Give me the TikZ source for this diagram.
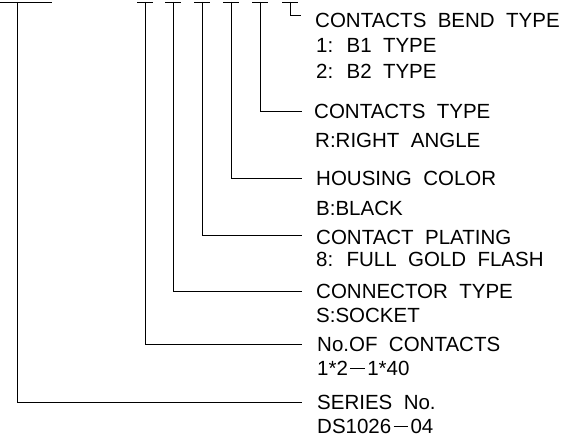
\documentclass[tikz,border=0pt]{standalone}
\usepackage{fontspec}
\setmainfont{Liberation Sans}[WordSpace=2]
\newcommand{\cadminus}{\kern0.12em\rule[0.33em]{0.7em}{0.8pt}\kern0.12em}
\begin{document}
\begin{tikzpicture}[x=1pt,y=-1pt,
  lead/.style={line width=0.8pt,black},
  lbl/.style={anchor=base west,inner sep=0pt,font=\fontsize{20.5}{24}\selectfont}]
\useasboundingbox (0,0) rectangle (574,446);
% coordinates for leader corners
\coordinate (s0) at (0,2);
\coordinate (s1) at (52,2);
\coordinate (sv) at (17,2);
\coordinate (sc) at (17,402);
\coordinate (se) at (302,402);
\foreach \n/\x/\y in {a/145/344,b/173/291,c/202/235,d/231/178,e/260/111}{
  \coordinate (\n t) at (\x,2);
  \coordinate (\n l) at (\x-8,2);
  \coordinate (\n r) at (\x+8,2);
  \coordinate (\n c) at (\x,\y);
  \coordinate (\n e) at (302,\y);
}
\coordinate (ft) at (290,2);
\coordinate (fl) at (282,2);
\coordinate (fr) at (298,2);
\coordinate (fc) at (290,15);
\coordinate (fe) at (301,15);
% text
\node[lbl] (t1) at (315,27.5) {CONTACTS BEND TYPE};
\node[lbl] (t1a) at (316,52.5) {1: B1 TYPE};
\node[lbl] (t1b) at (316,78.5) {2: B2 TYPE};
\node[lbl] (t2) at (314,118.5) {CONTACTS TYPE};
\node[lbl] (t2a) at (315,147.5) {R:RIGHT ANGLE};
\node[lbl] (t3) at (316,185.5) {HOUSING COLOR};
\node[lbl] (t3a) at (316,215.5) {B:BLACK};
\node[lbl] (t4) at (316,244.5) {CONTACT PLATING};
\node[lbl] (t4a) at (316,266.5) {8: FULL GOLD FLASH};
\node[lbl] (t5) at (316,298.5) {CONNECTOR TYPE};
\node[lbl] (t5a) at (316,322.5) {S:SOCKET};
\node[lbl] (t6) at (317,351.5) {No.OF CONTACTS};
\node[lbl] (t6a) at (317,375.5) {1*2\cadminus1*40};
\node[lbl] (t7) at (317,409.5) {SERIES No.};
\node[lbl] (t7a) at (317,433.5) {DS1026\cadminus04};
% leaders
\draw[lead] (s0) -- (s1);
\draw[lead] (sv) -- (sc) -- (se);
\foreach \n in {a,b,c,d,e}{
  \draw[lead] (\n l) -- (\n r);
  \draw[lead] (\n t) -- (\n c) -- (\n e);
}
\draw[lead] (fl) -- (fr);
\draw[lead] (ft) -- (fc) -- (fe);
\end{tikzpicture}
\end{document}
